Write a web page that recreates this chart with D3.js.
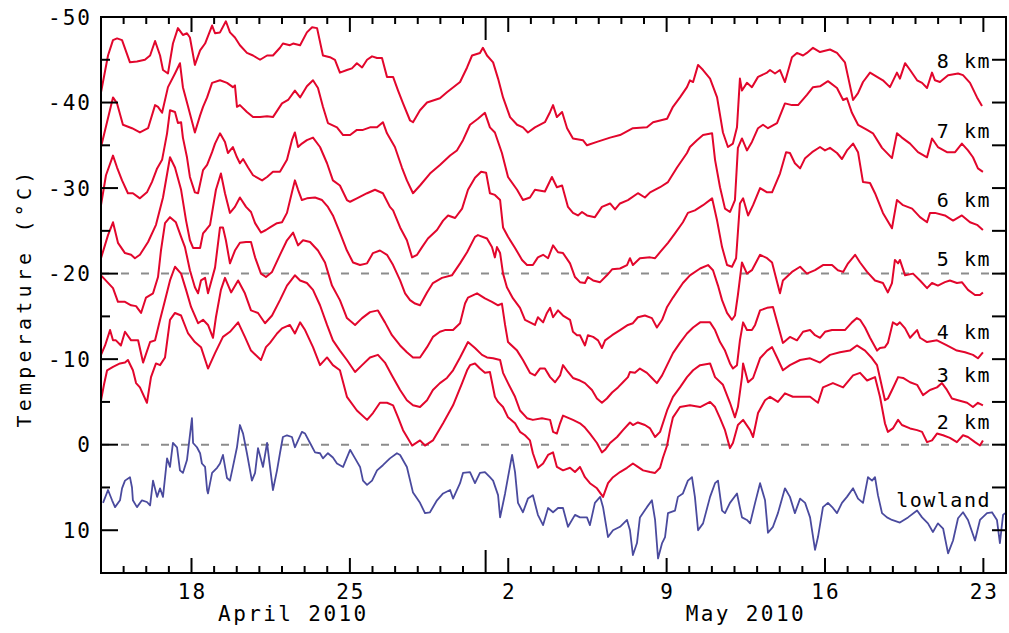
<!DOCTYPE html>
<html>
<head>
<meta charset="utf-8">
<script src="https://cdn.jsdelivr.net/npm/d3@7"></script>
<style>
body { margin: 0; background: #fff; }
svg text { font-family: "DejaVu Sans Mono", monospace; fill: #000; }
</style>
</head>
<body>
<script>
// each point: [days after 14 April 2010 00:00 UTC, temperature in °C]
const km8 = [[0,-41.2],[0.31,-45.5],[0.53,-47.3],[0.71,-47.5],[0.93,-47.3],[1.28,-44.7],[1.59,-44.8],[1.94,-45.0],[2.17,-45.5],[2.39,-47.2],[2.61,-45.5],[2.74,-43.8],[2.96,-43.4],[3.18,-46.9],[3.40,-48.7],[3.62,-47.9],[3.80,-48.1],[3.93,-47.6],[4.15,-44.4],[4.38,-46.1],[4.60,-46.9],[4.91,-49.0],[5.04,-48.1],[5.26,-48.2],[5.52,-49.5],[5.70,-48.2],[5.92,-47.6],[6.14,-46.7],[6.45,-45.8],[6.72,-45.5],[7.03,-45.0],[7.34,-45.5],[7.60,-45.5],[7.91,-46.4],[8.04,-46.9],[8.35,-46.7],[8.49,-46.9],[8.80,-46.7],[9.10,-48.2],[9.33,-48.8],[9.55,-48.7],[9.81,-45.5],[10.12,-45.3],[10.34,-45.0],[10.56,-43.5],[10.87,-43.8],[11.09,-44.0],[11.31,-44.6],[11.54,-44.1],[11.76,-45.0],[11.98,-45.4],[12.20,-45.2],[12.42,-45.2],[12.64,-43.0],[12.91,-43.0],[13.13,-41.4],[13.35,-39.9],[13.66,-37.9],[13.79,-37.7],[14.10,-39.1],[14.41,-40.0],[14.98,-40.5],[15.29,-41.2],[15.87,-42.4],[16.18,-44.1],[16.40,-45.5],[16.75,-45.8],[16.88,-46.4],[17.06,-45.5],[17.33,-44.7],[17.55,-42.8],[17.77,-40.6],[18.08,-38.3],[18.39,-37.4],[18.65,-37.1],[18.87,-36.5],[19.18,-37.1],[19.62,-37.7],[19.85,-38.9],[19.98,-39.7],[20.15,-38.3],[20.38,-38.9],[20.60,-37.0],[20.86,-35.8],[21.30,-35.6],[21.48,-35.0],[21.92,-35.4],[22.50,-35.9],[22.94,-36.2],[23.51,-37.0],[24.13,-37.1],[24.40,-37.7],[25.02,-38.1],[25.28,-39.5],[25.59,-40.6],[25.90,-41.8],[26.03,-42.6],[26.17,-42.4],[26.39,-44.4],[26.61,-43.8],[26.92,-42.8],[27.23,-40.6],[27.49,-36.5],[27.71,-34.8],[27.93,-35.2],[28.11,-37.1],[28.24,-42.8],[28.33,-41.4],[28.55,-42.3],[28.77,-41.8],[29.04,-43.0],[29.44,-43.5],[29.57,-43.8],[29.79,-43.4],[30.01,-43.8],[30.23,-42.4],[30.54,-45.3],[30.76,-45.8],[31.03,-45.5],[31.20,-45.8],[31.47,-46.4],[31.78,-45.9],[32.22,-46.2],[32.53,-45.8],[32.88,-44.7],[33.02,-43.0],[33.24,-40.3],[33.46,-41.1],[33.68,-42.4],[33.99,-43.5],[34.30,-43.0],[34.56,-42.6],[34.87,-41.8],[35.18,-43.5],[35.31,-42.8],[35.54,-44.6],[35.76,-43.8],[36.07,-42.6],[36.29,-42.3],[36.51,-41.7],[36.73,-43.5],[36.86,-42.6],[37.08,-42.4],[37.44,-43.2],[37.88,-43.4],[38.10,-43.2],[38.41,-42.3],[38.72,-40.6],[38.94,-39.6]];

const km7 = [[0,-34.8],[0.53,-40.6],[0.71,-39.9],[0.97,-37.4],[1.37,-37.0],[1.72,-36.5],[2.08,-37.0],[2.39,-39.7],[2.52,-39.5],[2.70,-38.8],[2.96,-41.8],[3.27,-43.4],[3.49,-44.6],[3.62,-41.8],[3.85,-39.5],[4.15,-36.5],[4.38,-38.5],[4.51,-39.5],[4.69,-40.6],[4.91,-42.3],[5.26,-42.6],[5.57,-42.3],[5.83,-41.8],[5.92,-42.0],[6.01,-39.5],[6.14,-39.7],[6.45,-38.9],[6.72,-38.3],[7.03,-38.3],[7.34,-38.4],[7.60,-38.3],[8.00,-39.9],[8.27,-40.3],[8.57,-41.4],[8.80,-40.6],[9.10,-41.9],[9.37,-42.6],[9.59,-41.7],[9.81,-39.5],[10.03,-37.6],[10.43,-37.1],[10.70,-36.2],[11.01,-36.2],[11.31,-36.8],[11.58,-36.8],[11.89,-37.1],[12.20,-37.1],[12.46,-37.7],[12.64,-36.4],[12.99,-34.8],[13.30,-32.4],[13.52,-30.9],[13.79,-29.4],[14.10,-30.3],[14.54,-31.7],[14.98,-32.7],[15.43,-33.8],[15.73,-34.4],[16.00,-35.6],[16.31,-37.4],[16.66,-38.1],[16.97,-38.8],[17.19,-37.1],[17.41,-36.5],[17.72,-34.1],[17.99,-31.3],[18.39,-29.8],[18.65,-28.6],[18.96,-28.9],[19.18,-29.8],[19.62,-29.6],[19.93,-31.3],[20.15,-30.1],[20.38,-30.3],[20.64,-27.8],[20.86,-27.1],[21.08,-26.8],[21.26,-27.2],[21.48,-26.8],[21.83,-26.6],[22.14,-27.8],[22.50,-28.2],[22.72,-27.5],[22.94,-28.2],[23.29,-28.6],[23.73,-29.4],[24.04,-28.9],[24.27,-29.5],[24.71,-30.1],[25.06,-30.7],[25.46,-32.4],[25.90,-34.1],[26.03,-34.8],[26.34,-35.6],[26.61,-36.2],[27.01,-36.4],[27.14,-33.3],[27.36,-30.1],[27.58,-27.6],[27.80,-27.2],[28.02,-28.6],[28.15,-34.7],[28.33,-35.8],[28.55,-34.4],[28.77,-35.4],[29.04,-37.0],[29.26,-37.4],[29.48,-37.0],[29.88,-37.6],[30.23,-39.9],[30.54,-39.7],[30.81,-39.7],[31.20,-40.9],[31.47,-41.8],[31.78,-41.9],[32.13,-42.5],[32.53,-41.7],[32.80,-40.3],[32.97,-40.5],[33.19,-38.8],[33.46,-37.4],[33.86,-36.8],[34.12,-36.4],[34.52,-34.7],[34.96,-33.5],[35.18,-36.4],[35.40,-35.9],[35.76,-35.2],[36.11,-34.2],[36.51,-33.6],[36.73,-35.8],[36.99,-34.8],[37.39,-34.2],[37.75,-34.2],[38.05,-35.2],[38.32,-34.4],[38.54,-33.6],[38.76,-32.3],[38.98,-31.9]];

const km6 = [[0,-28.0],[0.22,-31.5],[0.53,-33.8],[0.71,-32.4],[0.93,-30.9],[1.19,-29.4],[1.41,-29.4],[1.72,-28.8],[2.03,-29.5],[2.25,-30.7],[2.48,-32.3],[2.70,-33.3],[2.92,-36.4],[3.05,-39.1],[3.27,-38.9],[3.40,-37.6],[3.54,-37.7],[3.62,-35.9],[3.80,-33.6],[3.93,-31.3],[4.15,-29.5],[4.29,-29.4],[4.51,-32.1],[4.69,-32.7],[4.91,-34.2],[5.04,-35.2],[5.26,-36.4],[5.48,-35.4],[5.61,-34.1],[5.83,-34.8],[6.01,-33.6],[6.14,-32.9],[6.28,-33.4],[6.50,-32.4],[6.72,-31.5],[7.12,-30.9],[7.34,-31.3],[7.60,-31.9],[7.91,-31.9],[8.22,-33.3],[8.44,-35.6],[8.57,-36.5],[8.71,-34.8],[8.88,-35.2],[9.10,-35.6],[9.37,-35.9],[9.68,-34.8],[9.99,-32.9],[10.25,-30.9],[10.56,-30.3],[10.87,-28.6],[11.01,-28.4],[11.31,-28.8],[11.76,-29.4],[12.11,-29.8],[12.46,-29.4],[12.77,-27.8],[12.91,-27.4],[13.22,-25.4],[13.52,-23.9],[13.75,-21.9],[13.97,-22.2],[14.19,-23.1],[14.45,-24.1],[14.85,-25.1],[15.12,-26.2],[15.34,-26.8],[15.65,-26.5],[15.96,-27.6],[16.22,-29.8],[16.53,-31.2],[16.80,-31.9],[17.02,-31.8],[17.19,-29.4],[17.41,-29.2],[17.64,-28.6],[17.77,-25.4],[17.99,-24.3],[18.30,-23.0],[18.61,-21.6],[18.83,-21.0],[19.09,-21.0],[19.31,-21.9],[19.54,-22.2],[19.76,-21.8],[19.98,-23.3],[20.20,-22.5],[20.42,-22.4],[20.73,-21.2],[20.95,-19.6],[21.17,-19.0],[21.39,-18.9],[21.52,-19.6],[21.75,-19.2],[22.06,-19.0],[22.36,-19.8],[22.59,-20.5],[22.94,-20.6],[23.25,-21.0],[23.38,-21.8],[23.51,-21.0],[23.82,-21.8],[24.27,-21.9],[24.49,-21.8],[24.71,-22.5],[25.06,-23.6],[25.37,-24.7],[25.72,-26.0],[25.94,-27.1],[26.25,-27.4],[26.61,-28.0],[27.01,-28.8],[27.23,-26.2],[27.45,-23.1],[27.67,-21.0],[27.89,-20.8],[28.07,-21.8],[28.24,-28.2],[28.38,-28.8],[28.60,-26.8],[28.82,-28.0],[29.13,-30.0],[29.44,-29.5],[29.66,-29.5],[30.01,-31.7],[30.28,-34.2],[30.45,-34.1],[30.67,-32.9],[30.90,-32.3],[31.12,-33.5],[31.43,-34.2],[31.78,-34.8],[32.00,-34.4],[32.22,-34.7],[32.53,-34.1],[32.75,-33.4],[32.97,-34.4],[33.24,-35.2],[33.46,-34.2],[33.68,-30.7],[33.99,-30.6],[34.21,-29.4],[34.56,-27.1],[34.96,-25.3],[35.18,-28.6],[35.45,-28.0],[35.85,-27.6],[36.20,-26.6],[36.51,-26.0],[36.64,-27.1],[36.86,-27.1],[37.30,-26.8],[37.66,-26.2],[38.05,-26.8],[38.41,-26.0],[38.72,-25.7],[38.98,-25.1]];

const km5 = [[0,-21.8],[0.31,-24.5],[0.53,-26.0],[0.75,-23.6],[1.06,-22.4],[1.33,-22.2],[1.50,-21.8],[1.72,-22.2],[2.08,-23.7],[2.43,-25.7],[2.74,-28.9],[3.05,-33.6],[3.27,-32.4],[3.54,-29.8],[3.76,-26.2],[3.93,-23.9],[4.07,-23.0],[4.38,-23.0],[4.51,-24.7],[4.64,-25.1],[4.82,-25.7],[5.08,-29.8],[5.30,-31.7],[5.48,-29.4],[5.70,-27.1],[5.92,-27.8],[6.14,-28.9],[6.41,-27.8],[6.63,-27.2],[6.81,-25.9],[7.07,-24.8],[7.29,-25.1],[7.47,-25.4],[7.78,-25.9],[8.00,-26.0],[8.22,-27.1],[8.44,-29.5],[8.57,-30.9],[8.71,-29.8],[8.88,-28.6],[9.10,-28.8],[9.46,-28.9],[9.77,-28.6],[10.03,-27.8],[10.25,-26.8],[10.56,-24.8],[10.87,-22.7],[11.14,-21.3],[11.45,-21.0],[11.76,-21.2],[12.02,-22.4],[12.33,-22.7],[12.64,-22.2],[12.91,-21.0],[13.22,-19.2],[13.44,-17.7],[13.66,-16.9],[13.88,-16.5],[14.10,-16.3],[14.41,-17.8],[14.67,-18.9],[15.07,-19.5],[15.51,-19.8],[15.87,-21.2],[16.18,-22.5],[16.53,-24.3],[16.66,-24.5],[17.06,-24.1],[17.28,-23.1],[17.41,-21.9],[17.50,-23.1],[17.64,-22.4],[17.77,-20.0],[17.94,-18.4],[18.21,-17.1],[18.52,-16.0],[18.74,-14.6],[18.96,-14.3],[19.18,-14.0],[19.31,-14.9],[19.54,-14.3],[19.71,-15.4],[19.85,-16.0],[19.98,-14.9],[20.20,-15.7],[20.42,-15.1],[20.73,-14.6],[20.86,-13.2],[21.04,-12.8],[21.17,-12.8],[21.39,-11.6],[21.52,-12.8],[21.75,-12.6],[21.97,-12.2],[22.14,-11.3],[22.28,-12.2],[22.59,-12.8],[22.94,-13.4],[23.29,-14.0],[23.51,-14.2],[23.73,-14.9],[24.04,-15.1],[24.35,-14.8],[24.57,-13.7],[24.80,-14.6],[25.02,-16.1],[25.28,-17.2],[25.72,-18.9],[26.03,-19.8],[26.48,-20.6],[26.83,-21.0],[27.05,-20.4],[27.27,-18.6],[27.45,-16.9],[27.67,-15.4],[27.89,-14.6],[28.02,-15.1],[28.15,-17.5],[28.33,-21.3],[28.55,-20.0],[28.77,-20.4],[29.13,-22.2],[29.44,-21.8],[29.66,-21.3],[30.01,-17.7],[30.14,-19.2],[30.54,-20.2],[30.90,-20.8],[31.20,-20.0],[31.56,-20.4],[31.91,-21.0],[32.31,-21.0],[32.57,-20.4],[32.80,-20.2],[33.02,-21.2],[33.33,-22.2],[33.55,-21.3],[33.86,-20.2],[34.21,-19.2],[34.56,-18.9],[34.78,-17.8],[34.96,-18.9],[35.09,-21.6],[35.23,-21.2],[35.31,-21.6],[35.54,-19.8],[35.89,-20.0],[36.20,-19.2],[36.51,-18.3],[36.73,-18.9],[36.99,-18.6],[37.30,-19.0],[37.52,-19.2],[37.83,-18.9],[38.05,-19.0],[38.32,-18.1],[38.63,-17.5],[38.85,-17.5],[38.98,-17.8]];

const km4 = [[0,-19.8],[0.53,-18.3],[0.75,-16.7],[1.06,-16.7],[1.33,-16.3],[1.55,-16.2],[1.77,-15.4],[1.99,-17.2],[2.30,-17.7],[2.52,-19.6],[2.65,-22.7],[2.83,-25.9],[3.05,-26.6],[3.31,-26.0],[3.54,-24.3],[3.71,-23.1],[3.93,-20.4],[4.15,-18.4],[4.29,-17.7],[4.42,-19.2],[4.60,-19.5],[4.73,-17.7],[5.04,-20.7],[5.26,-25.4],[5.39,-25.4],[5.52,-23.9],[5.70,-21.2],[5.92,-22.7],[6.14,-23.6],[6.41,-23.7],[6.63,-23.7],[6.81,-21.9],[7.07,-20.0],[7.29,-19.6],[7.56,-20.2],[7.91,-22.2],[8.22,-23.9],[8.49,-24.8],[8.71,-23.3],[8.93,-23.9],[9.24,-23.7],[9.59,-22.7],[9.90,-21.3],[10.21,-18.6],[10.56,-16.9],[10.87,-14.8],[11.23,-14.0],[11.54,-14.8],[11.89,-15.5],[12.24,-15.7],[12.55,-14.3],[12.86,-12.8],[13.22,-11.6],[13.52,-10.8],[13.79,-10.2],[14.10,-10.2],[14.41,-11.4],[14.67,-12.6],[14.98,-13.2],[15.20,-13.4],[15.56,-13.4],[15.87,-14.2],[16.09,-16.5],[16.22,-17.2],[16.62,-17.7],[16.97,-17.1],[17.28,-16.7],[17.55,-16.3],[17.72,-16.5],[17.86,-14.0],[17.99,-12.0],[18.39,-11.0],[18.65,-9.9],[18.96,-8.4],[19.18,-8.1],[19.40,-8.9],[19.62,-8.9],[19.85,-7.9],[20.07,-7.3],[20.29,-8.1],[20.42,-9.3],[20.64,-8.5],[20.86,-7.8],[21.17,-7.5],[21.39,-7.2],[21.70,-6.4],[21.92,-5.4],[22.14,-4.9],[22.36,-5.4],[22.59,-6.1],[22.85,-6.7],[23.07,-7.3],[23.29,-7.9],[23.38,-8.5],[23.60,-8.4],[23.82,-8.9],[24.13,-8.4],[24.35,-7.8],[24.57,-7.2],[24.80,-8.1],[25.02,-9.3],[25.28,-10.7],[25.59,-11.9],[25.90,-13.0],[26.17,-13.7],[26.48,-14.3],[26.92,-14.3],[27.14,-13.4],[27.36,-12.0],[27.58,-11.0],[27.80,-9.5],[27.93,-8.9],[28.11,-9.3],[28.24,-12.2],[28.38,-14.3],[28.55,-13.4],[28.77,-13.4],[28.91,-14.0],[29.13,-15.7],[29.44,-16.0],[29.70,-16.1],[29.92,-14.0],[30.14,-11.9],[30.45,-12.6],[30.76,-12.2],[31.03,-13.2],[31.34,-13.4],[31.56,-12.8],[31.78,-12.5],[32.00,-13.2],[32.31,-13.4],[32.57,-13.4],[32.88,-13.4],[33.19,-14.3],[33.41,-14.8],[33.55,-14.6],[33.77,-13.7],[33.99,-12.5],[34.30,-11.0],[34.43,-11.3],[34.65,-11.4],[34.78,-11.9],[35.00,-14.3],[35.18,-14.0],[35.31,-14.3],[35.54,-13.6],[35.76,-12.5],[36.07,-13.4],[36.20,-12.5],[36.51,-12.0],[36.95,-12.2],[37.39,-11.6],[37.83,-11.0],[38.19,-10.8],[38.54,-10.5],[38.76,-10.1],[38.98,-10.8]];

const km3 = [[0,-10.5],[0.18,-11.6],[0.40,-13.4],[0.53,-12.2],[0.66,-12.2],[0.88,-11.6],[1.06,-13.2],[1.33,-12.2],[1.64,-12.2],[1.86,-9.6],[2.17,-12.0],[2.39,-12.2],[2.61,-14.6],[2.83,-16.9],[3.05,-19.2],[3.27,-20.8],[3.54,-20.0],[3.76,-18.1],[3.98,-16.1],[4.29,-14.2],[4.51,-14.6],[4.73,-14.0],[4.95,-12.5],[5.08,-14.9],[5.30,-18.1],[5.48,-19.5],[5.75,-17.8],[6.06,-19.2],[6.36,-17.7],[6.63,-15.7],[6.94,-15.4],[7.25,-14.2],[7.56,-15.1],[7.91,-16.9],[8.22,-18.6],[8.57,-19.8],[8.80,-19.2],[9.10,-18.9],[9.37,-18.1],[9.68,-16.3],[9.99,-14.0],[10.25,-12.2],[10.56,-11.0],[10.87,-9.9],[11.23,-8.5],[11.54,-9.3],[11.89,-10.2],[12.24,-10.5],[12.55,-9.6],[12.86,-8.1],[13.22,-6.4],[13.52,-5.2],[13.79,-4.6],[14.10,-4.4],[14.41,-5.2],[14.67,-6.4],[14.98,-7.2],[15.29,-7.8],[15.56,-8.7],[15.87,-10.2],[16.22,-12.0],[16.53,-11.3],[16.84,-10.5],[17.06,-10.2],[17.33,-10.1],[17.64,-9.9],[17.77,-8.4],[17.99,-7.2],[18.30,-5.6],[18.52,-4.0],[18.83,-3.1],[19.09,-2.9],[19.49,-3.1],[19.85,-2.9],[19.98,-1.5],[20.15,-1.3],[20.29,-2.5],[20.42,-3.4],[20.60,-3.2],[20.86,-2.9],[21.17,-2.5],[21.39,-2.0],[21.61,-1.3],[21.92,-0.2],[22.14,0.9],[22.28,0.6],[22.50,-0.2],[22.81,-0.9],[23.07,-1.7],[23.38,-2.6],[23.51,-2.3],[23.73,-2.6],[24.04,-2.3],[24.27,-1.9],[24.49,-0.9],[24.71,-1.5],[25.02,-4.0],[25.28,-5.6],[25.59,-6.7],[25.90,-7.9],[26.17,-8.7],[26.48,-9.3],[26.92,-9.5],[27.14,-7.9],[27.49,-7.0],[27.80,-4.9],[28.02,-3.2],[28.15,-4.4],[28.33,-7.9],[28.38,-9.5],[28.60,-7.3],[28.82,-7.8],[29.13,-10.1],[29.44,-11.0],[29.66,-11.4],[29.88,-10.2],[30.14,-8.7],[30.45,-9.3],[30.90,-9.9],[31.34,-10.1],[31.78,-9.6],[32.22,-10.5],[32.66,-10.8],[33.10,-11.0],[33.41,-11.6],[33.77,-11.0],[34.08,-10.1],[34.30,-9.3],[34.43,-7.8],[34.65,-5.2],[34.78,-5.4],[35.00,-6.6],[35.23,-7.9],[35.45,-7.8],[35.76,-7.3],[36.07,-7.0],[36.33,-5.8],[36.64,-6.4],[36.95,-6.7],[37.17,-7.2],[37.39,-6.4],[37.61,-5.4],[37.88,-5.2],[38.28,-4.9],[38.54,-4.4],[38.76,-4.9],[38.98,-4.6]];

const km2 = [[0,-5.2],[0.13,-7.0],[0.27,-8.7],[0.53,-9.1],[0.84,-9.5],[1.06,-9.6],[1.19,-9.9],[1.41,-8.7],[1.55,-7.2],[1.72,-6.7],[2.03,-4.9],[2.21,-7.9],[2.43,-9.5],[2.61,-9.3],[2.83,-10.2],[3.05,-14.6],[3.27,-15.4],[3.54,-15.1],[3.85,-13.0],[4.15,-12.0],[4.42,-11.4],[4.73,-8.9],[5.04,-10.7],[5.39,-12.6],[5.70,-13.2],[6.06,-14.3],[6.36,-12.6],[6.63,-11.0],[7.07,-9.9],[7.29,-11.4],[7.47,-11.9],[7.78,-13.0],[8.00,-13.6],[8.35,-14.0],[8.57,-13.0],[8.80,-14.3],[9.02,-13.4],[9.37,-11.4],[9.68,-9.3],[9.99,-10.2],[10.25,-9.3],[10.56,-8.7],[10.87,-5.6],[11.31,-4.0],[11.76,-2.9],[12.02,-3.7],[12.33,-4.9],[12.64,-4.9],[12.91,-4.6],[13.13,-3.2],[13.35,-1.7],[13.75,0.1],[14.10,-0.5],[14.32,0.1],[14.67,-0.5],[15.12,-2.5],[15.56,-4.6],[15.96,-7.2],[16.18,-8.7],[16.31,-9.3],[16.53,-9.5],[16.75,-8.9],[16.97,-8.4],[17.19,-8.5],[17.41,-5.6],[17.55,-5.0],[17.77,-4.4],[17.99,-3.2],[18.30,-2.5],[18.52,-1.5],[18.74,-1.1],[18.96,-0.5],[19.09,1.0],[19.31,2.7],[19.54,2.2],[19.76,1.2],[19.98,0.9],[20.15,2.6],[20.42,3.0],[20.73,2.7],[20.95,3.2],[21.17,2.6],[21.39,3.8],[21.61,4.5],[21.92,5.1],[22.19,6.1],[22.41,4.5],[22.63,3.8],[22.94,3.2],[23.25,2.7],[23.51,2.2],[23.73,2.6],[23.96,3.0],[24.27,3.2],[24.49,3.3],[24.71,2.7],[24.84,1.5],[25.02,0.1],[25.15,-1.7],[25.28,-3.2],[25.59,-4.4],[26.03,-4.6],[26.48,-4.4],[26.92,-5.0],[27.14,-4.4],[27.36,-3.1],[27.58,-1.7],[27.80,0.4],[27.93,-0.2],[28.15,-2.3],[28.38,-2.9],[28.69,-1.7],[28.82,-0.9],[29.04,-3.7],[29.35,-5.2],[29.57,-5.6],[29.92,-5.0],[30.23,-6.0],[30.58,-5.6],[30.90,-5.6],[31.34,-5.6],[31.69,-4.9],[31.91,-6.7],[32.35,-7.2],[32.80,-6.7],[33.24,-8.1],[33.55,-8.4],[33.86,-7.5],[34.21,-7.9],[34.43,-5.6],[34.65,-2.5],[34.78,-1.5],[35.00,-1.9],[35.23,-2.9],[35.40,-2.3],[35.76,-1.9],[36.07,-1.7],[36.29,-1.5],[36.51,-0.3],[36.73,-0.5],[36.95,-1.3],[37.22,-1.1],[37.52,-0.8],[37.83,-0.3],[38.10,-1.1],[38.32,-0.9],[38.63,-0.3],[38.85,0.1],[38.98,-0.5]];

const lowland = [[0.09,6.8],[0.31,5.3],[0.49,6.5],[0.62,7.3],[0.84,6.5],[0.93,5.1],[1.06,4.2],[1.28,3.8],[1.37,5.0],[1.41,6.5],[1.59,7.3],[1.81,6.5],[2.03,6.7],[2.17,7.1],[2.30,4.2],[2.48,6.1],[2.61,5.1],[2.74,6.1],[2.92,1.6],[3.05,2.6],[3.18,-0.2],[3.36,0.3],[3.49,3.0],[3.62,3.3],[3.80,1.8],[4.02,-3.1],[4.07,-0.2],[4.24,0.3],[4.38,1.0],[4.46,2.2],[4.60,2.6],[4.69,5.3],[4.73,5.7],[4.91,3.3],[5.13,2.7],[5.26,2.2],[5.39,1.2],[5.57,3.9],[5.70,4.2],[5.83,2.6],[6.01,0.3],[6.14,-2.3],[6.28,-1.3],[6.45,1.0],[6.67,4.2],[6.81,3.3],[6.94,0.4],[7.16,2.6],[7.34,-0.2],[7.47,2.6],[7.60,5.3],[7.78,3.0],[7.91,1.0],[8.04,-0.9],[8.22,-1.1],[8.44,-0.9],[8.57,0.3],[8.71,-0.5],[8.88,-1.5],[9.02,-1.3],[9.24,-0.2],[9.46,0.9],[9.68,1.0],[9.81,1.6],[10.03,1.0],[10.25,1.5],[10.43,2.2],[10.70,2.6],[11.01,0.6],[11.23,1.6],[11.45,2.6],[11.58,4.2],[11.76,4.7],[11.98,4.2],[12.20,3.0],[12.46,2.4],[12.77,1.6],[13.08,1.0],[13.22,1.2],[13.52,2.6],[13.79,5.6],[14.10,6.8],[14.32,8.0],[14.54,7.9],[14.85,6.5],[15.12,5.7],[15.43,5.3],[15.56,6.3],[15.87,4.5],[16.00,3.3],[16.31,3.2],[16.53,4.5],[16.75,3.3],[16.97,3.2],[17.19,3.8],[17.33,4.2],[17.55,5.9],[17.64,8.5],[17.86,5.7],[17.99,3.8],[18.17,1.2],[18.30,3.2],[18.43,6.8],[18.65,7.9],[18.87,6.3],[19.09,5.9],[19.31,8.2],[19.54,9.4],[19.76,7.4],[19.98,7.9],[20.20,7.4],[20.42,7.4],[20.64,9.6],[20.95,8.2],[21.17,8.5],[21.48,8.5],[21.61,9.4],[21.83,6.8],[22.06,6.1],[22.19,7.3],[22.41,10.8],[22.63,10.0],[22.94,9.6],[23.25,8.8],[23.38,10.0],[23.51,12.9],[23.69,11.5],[23.82,8.5],[24.13,7.3],[24.35,6.5],[24.49,8.8],[24.62,13.3],[24.80,11.5],[24.93,10.8],[25.06,8.0],[25.37,7.7],[25.50,6.1],[25.72,5.7],[25.94,4.2],[26.12,3.8],[26.25,6.1],[26.39,10.0],[26.61,9.2],[26.92,6.1],[27.14,4.5],[27.27,4.2],[27.45,7.7],[27.58,8.0],[27.80,6.8],[28.11,5.7],[28.33,8.5],[28.55,8.8],[28.69,9.2],[28.91,6.8],[29.13,4.5],[29.35,6.5],[29.48,10.3],[29.70,9.6],[29.92,8.0],[30.23,5.1],[30.45,6.1],[30.67,8.0],[30.90,6.3],[31.12,6.8],[31.34,8.5],[31.56,12.3],[31.69,10.8],[31.91,7.3],[32.13,6.8],[32.35,7.4],[32.53,8.0],[32.75,6.8],[32.97,6.1],[33.24,5.1],[33.46,6.3],[33.68,6.8],[33.90,3.8],[34.08,4.2],[34.21,3.8],[34.34,5.9],[34.52,8.0],[34.74,8.5],[34.96,8.8],[35.31,9.1],[35.67,8.5],[36.07,7.7],[36.29,8.5],[36.55,9.2],[36.77,10.2],[36.99,9.2],[37.22,9.8],[37.44,12.7],[37.66,11.2],[37.88,8.6],[38.10,7.9],[38.32,8.8],[38.63,11.2],[38.85,8.8],[39.16,8.0],[39.38,7.9],[39.60,8.8],[39.73,11.5],[39.87,8.2],[39.96,8.0]];

const seriesNames = ["8 km", "7 km", "6 km", "5 km", "4 km", "3 km", "2 km", "lowland"];
const seriesData = [km8, km7, km6, km5, km4, km3, km2, lowland];
const labelTemps = [-44.85, -36.65, -28.65, -21.75, -13.15, -8.15, -2.7, 6.4];
const yTicks = [-50, -40, -30, -20, -10, 0, 10];
const refLines = [-20, 0];

const start = Date.UTC(2010, 3, 14), end = Date.UTC(2010, 4, 24);
const DAY = 864e5;

const width = 1009, height = 633;
const plotL = 101, plotR = 1006, plotT = 17, plotB = 573;

const svg = d3.select("body").append("svg")
    .attr("width", width)
    .attr("height", height);

const x = d3.scaleUtc().domain([start, end]).range([plotL, plotR]);
const y = d3.scaleLinear().domain([-50, 15]).range([plotT, plotB]);

svg.append("defs").append("clipPath").attr("id", "plot")
  .append("rect").attr("x", plotL).attr("y", plotT)
  .attr("width", plotR - plotL).attr("height", plotB - plotT);

// dashed reference lines
svg.selectAll(".ref").data(refLines).enter().append("line")
    .attr("x1", plotL).attr("x2", plotR)
    .attr("y1", d => y(d)).attr("y2", d => y(d))
    .attr("stroke", "#8c8c8c").attr("stroke-width", 2)
    .attr("stroke-dasharray", "8,12");

const line = d3.line()
    .x(d => x(start + d[0] * DAY))
    .y(d => y(d[1]));

svg.append("g").attr("clip-path", "url(#plot)")
  .selectAll("path").data(seriesData).enter().append("path")
    .attr("fill", "none")
    .attr("stroke", (d, i) => i === 7 ? "#4a4a9e" : "#e2062c")
    .attr("stroke-width", (d, i) => i === 7 ? 1.8 : 2)
    .attr("stroke-linejoin", "round")
    .attr("d", line);

// series labels
svg.selectAll(".lab").data(seriesNames).enter().append("text")
    .attr("x", 991)
    .attr("y", (d, i) => y(labelTemps[i]))
    .attr("dy", "0.36em")
    .attr("text-anchor", "end")
    .style("font-size", "20px")
    .style("letter-spacing", "1.5px")
    .text(d => d);

// frame
svg.append("rect")
    .attr("x", plotL).attr("y", plotT)
    .attr("width", plotR - plotL).attr("height", plotB - plotT)
    .attr("fill", "none").attr("stroke", "#000").attr("stroke-width", 2);

// y ticks (inward), left and right
const y5 = d3.range(-50, 16, 5);
svg.selectAll(".ytl").data(y5).enter().append("line")
    .attr("x1", plotL).attr("x2", d => plotL + (d % 10 === 0 ? 17 : 9))
    .attr("y1", d => y(d)).attr("y2", d => y(d))
    .attr("stroke", "#000").attr("stroke-width", 2);
svg.selectAll(".ytr").data(y5).enter().append("line")
    .attr("x1", plotR).attr("x2", plotR - 14)
    .attr("y1", d => y(d)).attr("y2", d => y(d))
    .attr("stroke", "#000").attr("stroke-width", 2);

svg.selectAll(".ylab").data(yTicks).enter().append("text")
    .attr("x", 92)
    .attr("y", d => y(d))
    .attr("dy", "0.36em")
    .attr("text-anchor", "end")
    .style("font-size", "21px")
    .style("letter-spacing", "2px")
    .text(d => d);

// x ticks: daily, weekly (Sundays), month start
const days = d3.utcDay.range(start, end + 1);
const tickLen = d => (d.getUTCDate() === 1 ? 23 : d.getUTCDay() === 0 ? 15 : 7);
svg.selectAll(".xtb").data(days).enter().append("line")
    .attr("x1", d => x(d)).attr("x2", d => x(d))
    .attr("y1", plotB).attr("y2", d => plotB - tickLen(d))
    .attr("stroke", "#000").attr("stroke-width", 2);
svg.selectAll(".xtt").data(days).enter().append("line")
    .attr("x1", d => x(d)).attr("x2", d => x(d))
    .attr("y1", plotT).attr("y2", d => plotT + tickLen(d))
    .attr("stroke", "#000").attr("stroke-width", 2);

const weeks = d3.utcSunday.range(start, end + 1);
svg.selectAll(".xlab").data(weeks).enter().append("text")
    .attr("x", d => x(d) + 1)
    .attr("y", 599)
    .attr("text-anchor", "middle")
    .style("font-size", "21px")
    .style("letter-spacing", "2px")
    .text(d3.utcFormat("%-d"));

const months = [
  {name: "April 2010", from: start, to: Date.UTC(2010, 4, 1)},
  {name: "May 2010", from: Date.UTC(2010, 4, 1), to: end}
];
svg.selectAll(".mlab").data(months).enter().append("text")
    .attr("x", d => x((d.from + d.to) / 2))
    .attr("y", 621)
    .attr("text-anchor", "middle")
    .style("font-size", "21px")
    .style("letter-spacing", "2.4px")
    .text(d => d.name);

svg.append("text")
    .attr("transform", `translate(31,${y(-17.2)}) rotate(-90)`)
    .attr("text-anchor", "middle")
    .style("font-size", "20px")
    .style("letter-spacing", "4.2px")
    .text("Temperature (°C)");
</script>
</body>
</html>
